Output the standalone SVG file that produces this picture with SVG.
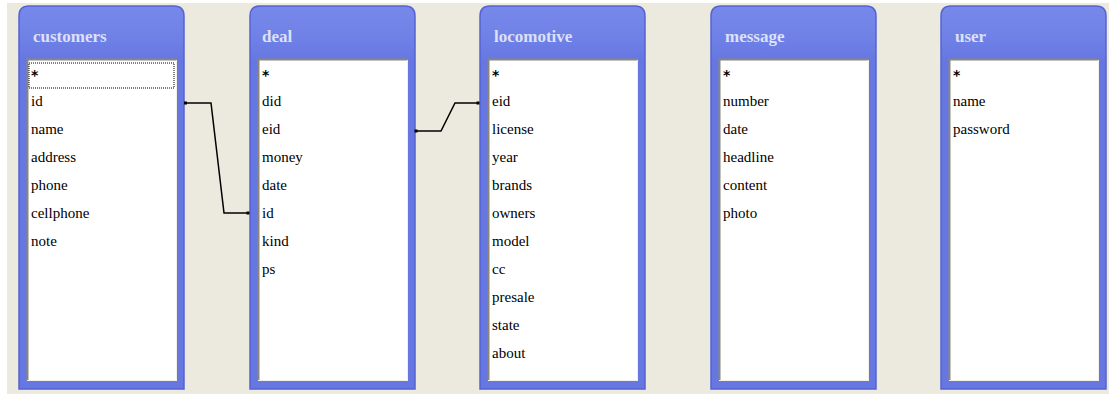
<svg xmlns="http://www.w3.org/2000/svg" width="1109" height="394" viewBox="0 0 1109 394">
<defs>
<linearGradient id="hdr" gradientUnits="userSpaceOnUse" x1="0" y1="0" x2="0" y2="55">
<stop offset="0" stop-color="#7688ea"/>
<stop offset="0.4" stop-color="#7384e8"/>
<stop offset="1" stop-color="#6677e2"/>
</linearGradient>
<g id="frame">
<path d="M0,10 Q0,0 10,0 L155,0 Q165,0 165,10 L165,383 L0,383 Z" fill="url(#hdr)" stroke="#5563d2" stroke-width="1.5"/>
<rect x="8" y="53" width="150" height="322" fill="#ffffff"/>
<path d="M8.5,375 L8.5,53.5 L158,53.5" fill="none" stroke="#8a8778" stroke-width="2"/>
<path d="M8,374.5 L157.5,374.5 L157.5,54" fill="none" stroke="#f2efe4" stroke-width="1"/>
</g>
</defs>
<style>
.title{font-family:"Liberation Serif","DejaVu Serif",serif;font-weight:bold;font-size:17px;fill:#dce1f8}
.f{font-family:"Liberation Serif","DejaVu Serif",serif;font-size:15px;fill:#000}
.s{font-family:"DejaVu Sans",sans-serif;font-weight:bold;font-size:14px;fill:#000}
.c{fill:none;stroke:#000;stroke-width:1.5}
.d{fill:#000}
</style>
<rect x="0" y="0" width="1109" height="394" fill="#ffffff"/>
<rect x="7" y="3" width="1102" height="391" fill="#ece9df"/>

<g id="customers" transform="translate(19,6)">
<use href="#frame"/>
<text class="title" x="14" y="36">customers</text>
<rect x="10" y="57" width="145" height="25" fill="none" stroke="#000" stroke-width="1" stroke-dasharray="1,1"/>
<text class="s" x="12" y="74">*</text>
<text class="f" x="12" y="100">id</text>
<text class="f" x="12" y="128">name</text>
<text class="f" x="12" y="156">address</text>
<text class="f" x="12" y="184">phone</text>
<text class="f" x="12" y="212">cellphone</text>
<text class="f" x="12" y="240">note</text>
</g>

<g id="deal" transform="translate(250,6)">
<use href="#frame"/>
<text class="title" x="12" y="36">deal</text>
<text class="s" x="12" y="74">*</text>
<text class="f" x="12" y="100">did</text>
<text class="f" x="12" y="128">eid</text>
<text class="f" x="12" y="156">money</text>
<text class="f" x="12" y="184">date</text>
<text class="f" x="12" y="212">id</text>
<text class="f" x="12" y="240">kind</text>
<text class="f" x="12" y="268">ps</text>
</g>

<g id="locomotive" transform="translate(480,6)">
<use href="#frame"/>
<text class="title" x="14" y="36">locomotive</text>
<text class="s" x="12" y="74">*</text>
<text class="f" x="12" y="100">eid</text>
<text class="f" x="12" y="128">license</text>
<text class="f" x="12" y="156">year</text>
<text class="f" x="12" y="184">brands</text>
<text class="f" x="12" y="212">owners</text>
<text class="f" x="12" y="240">model</text>
<text class="f" x="12" y="268">cc</text>
<text class="f" x="12" y="296">presale</text>
<text class="f" x="12" y="324">state</text>
<text class="f" x="12" y="352">about</text>
</g>

<g id="message" transform="translate(711,6)">
<use href="#frame"/>
<text class="title" x="14" y="36">message</text>
<text class="s" x="12" y="74">*</text>
<text class="f" x="12" y="100">number</text>
<text class="f" x="12" y="128">date</text>
<text class="f" x="12" y="156">headline</text>
<text class="f" x="12" y="184">content</text>
<text class="f" x="12" y="212">photo</text>
</g>

<g id="user" transform="translate(941,6)">
<use href="#frame"/>
<text class="title" x="14" y="36">user</text>
<text class="s" x="12" y="74">*</text>
<text class="f" x="12" y="100">name</text>
<text class="f" x="12" y="128">password</text>
</g>

<g id="connectors">
<polyline class="c" points="185,103 211,103 224,213 248,213"/>
<rect class="d" x="184" y="101.5" width="3" height="3"/>
<rect class="d" x="246.5" y="211.5" width="3" height="3"/>
<polyline class="c" points="416,131 441,131 455,103 478,103"/>
<rect class="d" x="414.5" y="129.5" width="3" height="3"/>
<rect class="d" x="476.5" y="101.5" width="3" height="3"/>
</g>
</svg>
